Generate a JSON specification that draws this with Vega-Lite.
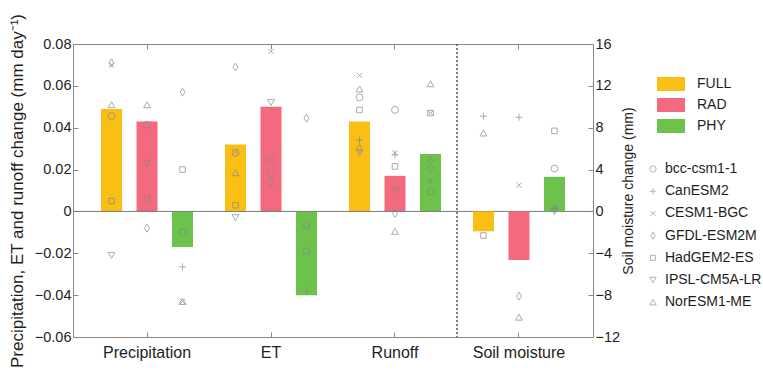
{
  "$schema": "https://vega.github.io/schema/vega-lite/v6.json",
  "width": 520,
  "height": 293,
  "autosize": {"type": "none"},
  "padding": {"left": 73, "top": 44, "right": 170, "bottom": 35},
  "background": "white",
  "config": {
    "font": "Liberation Sans",
    "view": {"stroke": "#8a8a8a", "strokeWidth": 1},
    "axis": {
      "domain": false,
      "grid": false,
      "labelFontSize": 14.5,
      "labelColor": "#1e1e1e",
      "titleFontSize": 15.5,
      "titleFontWeight": "normal",
      "titleColor": "#1e1e1e",
      "tickColor": "#8a8a8a",
      "tickSize": -5
    },
    "legend": {"labelFontSize": 14, "labelColor": "#1e1e1e"}
  },
  "datasets": {
    "bars": [
      {"v": "Precipitation", "s": "FULL", "val": 0.049},
      {"v": "Precipitation", "s": "RAD", "val": 0.043},
      {"v": "Precipitation", "s": "PHY", "val": -0.017},
      {"v": "ET", "s": "FULL", "val": 0.032},
      {"v": "ET", "s": "RAD", "val": 0.050},
      {"v": "ET", "s": "PHY", "val": -0.040},
      {"v": "Runoff", "s": "FULL", "val": 0.043},
      {"v": "Runoff", "s": "RAD", "val": 0.017},
      {"v": "Runoff", "s": "PHY", "val": 0.0275},
      {"v": "Soil moisture", "s": "FULL", "val": -1.9},
      {"v": "Soil moisture", "s": "RAD", "val": -4.65},
      {"v": "Soil moisture", "s": "PHY", "val": 3.3}
    ],
    "models": [
      {"v": "Precipitation", "s": "FULL", "m": "GFDL-ESM2M", "val": 0.071},
      {"v": "Precipitation", "s": "FULL", "m": "CESM1-BGC", "val": 0.070},
      {"v": "Precipitation", "s": "FULL", "m": "NorESM1-ME", "val": 0.051},
      {"v": "Precipitation", "s": "FULL", "m": "bcc-csm1-1", "val": 0.0455},
      {"v": "Precipitation", "s": "FULL", "m": "HadGEM2-ES", "val": 0.005},
      {"v": "Precipitation", "s": "FULL", "m": "IPSL-CM5A-LR", "val": -0.021},
      {"v": "Precipitation", "s": "RAD", "m": "NorESM1-ME", "val": 0.051},
      {"v": "Precipitation", "s": "RAD", "m": "bcc-csm1-1", "val": 0.0415},
      {"v": "Precipitation", "s": "RAD", "m": "IPSL-CM5A-LR", "val": 0.023},
      {"v": "Precipitation", "s": "RAD", "m": "HadGEM2-ES", "val": 0.006},
      {"v": "Precipitation", "s": "RAD", "m": "GFDL-ESM2M", "val": -0.008},
      {"v": "Precipitation", "s": "PHY", "m": "GFDL-ESM2M", "val": 0.057},
      {"v": "Precipitation", "s": "PHY", "m": "HadGEM2-ES", "val": 0.020},
      {"v": "Precipitation", "s": "PHY", "m": "bcc-csm1-1", "val": -0.010},
      {"v": "Precipitation", "s": "PHY", "m": "CanESM2", "val": -0.0265},
      {"v": "Precipitation", "s": "PHY", "m": "NorESM1-ME", "val": -0.043},
      {"v": "Precipitation", "s": "PHY", "m": "CESM1-BGC", "val": -0.043},
      {"v": "ET", "s": "FULL", "m": "GFDL-ESM2M", "val": 0.069},
      {"v": "ET", "s": "FULL", "m": "bcc-csm1-1", "val": 0.028},
      {"v": "ET", "s": "FULL", "m": "CESM1-BGC", "val": 0.0285},
      {"v": "ET", "s": "FULL", "m": "NorESM1-ME", "val": 0.0185},
      {"v": "ET", "s": "FULL", "m": "HadGEM2-ES", "val": 0.003},
      {"v": "ET", "s": "FULL", "m": "IPSL-CM5A-LR", "val": -0.003},
      {"v": "ET", "s": "RAD", "m": "CESM1-BGC", "val": 0.0765},
      {"v": "ET", "s": "RAD", "m": "IPSL-CM5A-LR", "val": 0.052},
      {"v": "ET", "s": "RAD", "m": "bcc-csm1-1", "val": 0.0245},
      {"v": "ET", "s": "RAD", "m": "HadGEM2-ES", "val": 0.018},
      {"v": "ET", "s": "RAD", "m": "GFDL-ESM2M", "val": 0.014},
      {"v": "ET", "s": "PHY", "m": "GFDL-ESM2M", "val": 0.0445},
      {"v": "ET", "s": "PHY", "m": "HadGEM2-ES", "val": -0.0065},
      {"v": "ET", "s": "PHY", "m": "bcc-csm1-1", "val": -0.019},
      {"v": "ET", "s": "PHY", "m": "CanESM2", "val": -0.038},
      {"v": "Runoff", "s": "FULL", "m": "CESM1-BGC", "val": 0.065},
      {"v": "Runoff", "s": "FULL", "m": "NorESM1-ME", "val": 0.0585},
      {"v": "Runoff", "s": "FULL", "m": "bcc-csm1-1", "val": 0.0545},
      {"v": "Runoff", "s": "FULL", "m": "HadGEM2-ES", "val": 0.0485},
      {"v": "Runoff", "s": "FULL", "m": "CanESM2", "val": 0.034},
      {"v": "Runoff", "s": "FULL", "m": "GFDL-ESM2M", "val": 0.030},
      {"v": "Runoff", "s": "FULL", "m": "IPSL-CM5A-LR", "val": 0.028},
      {"v": "Runoff", "s": "RAD", "m": "bcc-csm1-1", "val": 0.0485},
      {"v": "Runoff", "s": "RAD", "m": "CESM1-BGC", "val": 0.028},
      {"v": "Runoff", "s": "RAD", "m": "CanESM2", "val": 0.027},
      {"v": "Runoff", "s": "RAD", "m": "HadGEM2-ES", "val": 0.0215},
      {"v": "Runoff", "s": "RAD", "m": "IPSL-CM5A-LR", "val": 0.010},
      {"v": "Runoff", "s": "RAD", "m": "GFDL-ESM2M", "val": -0.001},
      {"v": "Runoff", "s": "RAD", "m": "NorESM1-ME", "val": -0.0095},
      {"v": "Runoff", "s": "PHY", "m": "NorESM1-ME", "val": 0.061},
      {"v": "Runoff", "s": "PHY", "m": "HadGEM2-ES", "val": 0.047},
      {"v": "Runoff", "s": "PHY", "m": "CESM1-BGC", "val": 0.047},
      {"v": "Runoff", "s": "PHY", "m": "GFDL-ESM2M", "val": 0.0245},
      {"v": "Runoff", "s": "PHY", "m": "IPSL-CM5A-LR", "val": 0.020},
      {"v": "Runoff", "s": "PHY", "m": "CanESM2", "val": 0.0145},
      {"v": "Runoff", "s": "PHY", "m": "bcc-csm1-1", "val": 0.0095},
      {"v": "Soil moisture", "s": "FULL", "m": "CanESM2", "val": 9.1},
      {"v": "Soil moisture", "s": "FULL", "m": "NorESM1-ME", "val": 7.5},
      {"v": "Soil moisture", "s": "FULL", "m": "HadGEM2-ES", "val": -2.3},
      {"v": "Soil moisture", "s": "RAD", "m": "CanESM2", "val": 9.0},
      {"v": "Soil moisture", "s": "RAD", "m": "CESM1-BGC", "val": 2.5},
      {"v": "Soil moisture", "s": "RAD", "m": "GFDL-ESM2M", "val": -8.1},
      {"v": "Soil moisture", "s": "RAD", "m": "NorESM1-ME", "val": -10.1},
      {"v": "Soil moisture", "s": "PHY", "m": "HadGEM2-ES", "val": 7.7},
      {"v": "Soil moisture", "s": "PHY", "m": "bcc-csm1-1", "val": 4.1},
      {"v": "Soil moisture", "s": "PHY", "m": "CanESM2", "val": 0.4},
      {"v": "Soil moisture", "s": "PHY", "m": "GFDL-ESM2M", "val": 0.3},
      {"v": "Soil moisture", "s": "PHY", "m": "IPSL-CM5A-LR", "val": 0.0}
    ]
  },
  "layer": [
    {
      "layer": [
        {
          "data": {"name": "bars"},
          "transform": [{"filter": "datum.v !== 'Soil moisture'"}],
          "mark": {"type": "bar"},
          "encoding": {
            "x": {
              "field": "v", "type": "nominal",
              "scale": {"domain": ["Precipitation", "ET", "Runoff", "Soil moisture"], "paddingInner": 0, "paddingOuter": 0.097},
              "axis": {"orient": "bottom", "title": null, "labelAngle": 0, "labelPadding": 12, "labelFontSize": 16}
            },
            "xOffset": {
              "field": "s", "type": "nominal",
              "scale": {"domain": ["FULL", "RAD", "PHY"], "paddingInner": 0.408, "paddingOuter": 0.45}
            },
            "y": {
              "field": "val", "type": "quantitative",
              "scale": {"domain": [-0.06, 0.08], "nice": false, "zero": false},
              "axis": {
                "orient": "left",
                "title": "Precipitation, ET and runoff change (mm day⁻¹)",
                "titleFontSize": 17,
                "values": [-0.06, -0.04, -0.02, 0, 0.02, 0.04, 0.06, 0.08],
                "labelExpr": "datum.value === 0 ? '0' : format(datum.value, '.2f')",
                "labelPadding": 7,
                "titlePadding": 8
              }
            },
            "color": {
              "field": "s", "type": "nominal",
              "scale": {"domain": ["FULL", "RAD", "PHY"], "range": ["#F9BF14", "#F3697E", "#6CC24A"]},
              "legend": {
                "title": null,
                "orient": "none",
                "legendX": 584,
                "legendY": 26,
                "symbolType": "M-1,-0.5H1V0.5H-1Z",
                "symbolSize": 784,
                "symbolStrokeWidth": 0,
                "symbolOpacity": 1,
                "rowPadding": -2,
                "labelOffset": 12
              }
            }
          }
        },
        {
          "data": {"name": "models"},
          "transform": [{"filter": "datum.v !== 'Soil moisture'"}],
          "mark": {"type": "point", "filled": false, "color": "#888888", "strokeWidth": 1, "size": 48},
          "encoding": {
            "x": {"field": "v", "type": "nominal", "axis": {"orient": "top", "labels": false, "title": null}},
            "xOffset": {"field": "s", "type": "nominal"},
            "y": {"field": "val", "type": "quantitative"},
            "shape": {
              "field": "m", "type": "nominal",
              "scale": {
                "domain": ["bcc-csm1-1", "CanESM2", "CESM1-BGC", "GFDL-ESM2M", "HadGEM2-ES", "IPSL-CM5A-LR", "NorESM1-ME"],
                "range": ["circle", "M-1,0H1M0,-1V1", "M-0.75,-0.75L0.75,0.75M-0.75,0.75L0.75,-0.75", "M0,-1.15L0.72,0L0,1.15L-0.72,0Z", "M-0.8,-0.8H0.8V0.8H-0.8Z", "triangle-down", "triangle-up"]
              },
              "legend": {
                "title": null,
                "orient": "none",
                "legendX": 573,
                "legendY": 118,
                "symbolStrokeColor": "#888888",
                "symbolStrokeWidth": 0.9,
                "symbolSize": 40,
                "rowPadding": 8.2,
                "labelOffset": 5
              }
            }
          }
        },
        {
          "data": {"values": [{}]},
          "mark": {"type": "rule", "color": "#7a7a7a", "strokeWidth": 1},
          "encoding": {"y": {"datum": 0, "type": "quantitative"}}
        }
      ]
    },
    {
      "layer": [
        {
          "data": {"name": "bars"},
          "transform": [{"filter": "datum.v === 'Soil moisture'"}],
          "mark": {"type": "bar"},
          "encoding": {
            "x": {"field": "v", "type": "nominal", "axis": null},
            "xOffset": {"field": "s", "type": "nominal"},
            "y": {
              "field": "val", "type": "quantitative",
              "scale": {"domain": [-12, 16], "nice": false, "zero": false},
              "axis": {
                "orient": "right",
                "title": "Soil moisture change (mm)",
                "titleFontSize": 14,
                "titleAngle": 270,
                "values": [-12, -8, -4, 0, 4, 8, 12, 16],
                "format": "d",
                "labelPadding": 7,
                "titlePadding": 16
              }
            },
            "color": {"field": "s", "type": "nominal"}
          }
        },
        {
          "data": {"name": "models"},
          "transform": [{"filter": "datum.v === 'Soil moisture'"}],
          "mark": {"type": "point", "filled": false, "color": "#888888", "strokeWidth": 1, "size": 48},
          "encoding": {
            "x": {"field": "v", "type": "nominal", "axis": null},
            "xOffset": {"field": "s", "type": "nominal"},
            "y": {"field": "val", "type": "quantitative"},
            "shape": {"field": "m", "type": "nominal"}
          }
        }
      ]
    },
    {
      "data": {"values": [{"v": "Soil moisture"}]},
      "mark": {"type": "rule", "color": "#555555", "strokeWidth": 1.5, "strokeDash": [2, 2]},
      "encoding": {"x": {"field": "v", "type": "nominal", "bandPosition": 0, "axis": null}}
    }
  ],
  "resolve": {"scale": {"y": "independent"}}
}
